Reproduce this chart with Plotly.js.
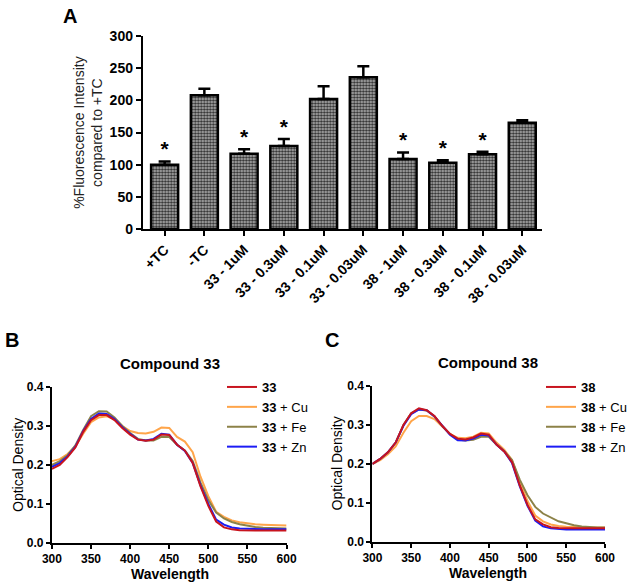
<!DOCTYPE html>
<html lang="en">
<head>
<meta charset="UTF-8">
<title>Fluorescence and optical density</title>
<script src="https://cdn.plot.ly/plotly-3.0.1.min.js"></script>
<style>
    html, body { margin: 0; padding: 0; background: #fff; }
    #chart { width: 632px; height: 586px; }
</style>
</head>
<body>
<div id="chart"></div>
<script>
    // Panel A: fluorescence relative to +TC
    const groups = ['+TC', '-TC', '33 - 1uM', '33 - 0.3uM', '33 - 0.1uM', '33 - 0.03uM',
                    '38 - 1uM', '38 - 0.3uM', '38 - 0.1uM', '38 - 0.03uM'];
    const fluor = [100, 208, 117, 129, 202, 236, 109, 103, 116, 165];
    const fluorErr = [5, 10, 7, 11, 20, 17, 10, 4, 4, 4];
    const signif = [true, false, true, true, false, false, true, true, true, false];

    // Panels B and C: absorbance spectra
    const wavelength = [300, 310, 320, 330, 340, 350, 360, 370, 380, 390, 400, 410, 420, 430, 440, 450,
                        460, 470, 480, 490, 500, 510, 520, 530, 540, 550, 560, 570, 580, 590, 600];

    const od33   = [0.190, 0.200, 0.220, 0.245, 0.285, 0.315, 0.328, 0.328, 0.315, 0.295, 0.278, 0.265, 0.262, 0.265, 0.278, 0.277,
                    0.252, 0.237, 0.205, 0.145, 0.095, 0.055, 0.040, 0.035, 0.033, 0.032, 0.032, 0.032, 0.032, 0.032, 0.032];
    const od33Cu = [0.210, 0.215, 0.228, 0.248, 0.280, 0.310, 0.322, 0.325, 0.318, 0.300, 0.287, 0.282, 0.281, 0.285, 0.296, 0.295,
                    0.272, 0.260, 0.233, 0.170, 0.120, 0.080, 0.067, 0.058, 0.053, 0.050, 0.048, 0.047, 0.046, 0.045, 0.045];
    const od33Fe = [0.200, 0.210, 0.225, 0.250, 0.290, 0.325, 0.338, 0.337, 0.322, 0.300, 0.282, 0.267, 0.263, 0.263, 0.272, 0.272,
                    0.252, 0.237, 0.210, 0.155, 0.110, 0.078, 0.063, 0.054, 0.048, 0.044, 0.041, 0.039, 0.038, 0.037, 0.037];
    const od33Zn = [0.195, 0.205, 0.222, 0.247, 0.287, 0.318, 0.332, 0.331, 0.318, 0.297, 0.280, 0.265, 0.263, 0.267, 0.280, 0.278,
                    0.252, 0.236, 0.205, 0.148, 0.100, 0.060, 0.047, 0.040, 0.037, 0.036, 0.036, 0.035, 0.035, 0.035, 0.035];

    const od38   = [0.200, 0.213, 0.230, 0.255, 0.300, 0.330, 0.343, 0.338, 0.323, 0.298, 0.277, 0.265, 0.263, 0.268, 0.278, 0.275,
                    0.250, 0.232, 0.205, 0.145, 0.095, 0.058, 0.045, 0.038, 0.036, 0.035, 0.035, 0.035, 0.035, 0.035, 0.035];
    const od38Cu = [0.200, 0.210, 0.225, 0.245, 0.280, 0.310, 0.323, 0.323, 0.315, 0.295, 0.277, 0.267, 0.266, 0.270, 0.280, 0.278,
                    0.255, 0.237, 0.210, 0.155, 0.105, 0.068, 0.053, 0.045, 0.041, 0.039, 0.038, 0.037, 0.037, 0.037, 0.037];
    const od38Fe = [0.200, 0.213, 0.230, 0.255, 0.300, 0.330, 0.340, 0.337, 0.322, 0.297, 0.277, 0.263, 0.260, 0.262, 0.270, 0.270,
                    0.250, 0.233, 0.210, 0.160, 0.120, 0.090, 0.073, 0.062, 0.053, 0.048, 0.043, 0.040, 0.038, 0.037, 0.037];
    const od38Zn = [0.200, 0.213, 0.230, 0.255, 0.298, 0.328, 0.340, 0.338, 0.322, 0.297, 0.275, 0.261, 0.260, 0.265, 0.275, 0.273,
                    0.250, 0.232, 0.203, 0.143, 0.093, 0.055, 0.040, 0.035, 0.033, 0.032, 0.032, 0.032, 0.032, 0.032, 0.032];

    const suffixes = ['', ' + Cu', ' + Fe', ' + Zn'];
    const colors = ['#c8141e', '#ffa54a', '#8c8248', '#1c1cf5'];

    const W = 632, H = 586;
    const px = x => x / W;
    const py = y => 1 - y / H;
    const FONT = 'Arial, "Liberation Sans", sans-serif';

    const traces = [];

    // bars with one sided error
    traces.push({
        type: 'bar', x: groups, y: fluor, xaxis: 'x', yaxis: 'y',
        width: 0.68, showlegend: false,
        marker: {
            color: '#8c8c8c',
            line: { color: '#000', width: 2.5 },
            pattern: { shape: '.', fgcolor: '#303030', bgcolor: '#b4b4b4', size: 3, solidity: 0.5 }
        },
        error_y: {
            type: 'data', symmetric: false, array: fluorErr,
            arrayminus: fluorErr.map(() => 0),
            color: '#000', thickness: 2.5, width: 6
        }
    });

    // asterisks for significance
    traces.push({
        type: 'scatter', mode: 'text', xaxis: 'x', yaxis: 'y', showlegend: false,
        x: groups, y: fluor.map((v, i) => v + fluorErr[i]),
        text: signif.map(s => s ? '<b>*</b>' : ''),
        textposition: 'top center',
        textfont: { family: FONT, size: 21, color: '#000' },
        cliponaxis: false
    });

    function addSpectra(compound, sets, xa, ya, legend) {
        // draw order: metal complexes first, parent compound on top
        [1, 2, 3, 0].forEach(i => {
            traces.push({
                type: 'scatter', mode: 'lines', x: wavelength, y: sets[i],
                xaxis: xa, yaxis: ya, legend: legend, legendrank: i + 1,
                name: '<b>' + compound + '</b>' + suffixes[i],
                line: { color: colors[i], width: 2 }
            });
        });
    }
    addSpectra('33', [od33, od33Cu, od33Fe, od33Zn], 'x2', 'y2', 'legend');
    addSpectra('38', [od38, od38Cu, od38Fe, od38Zn], 'x3', 'y3', 'legend2');

    const tickFont = { family: FONT, size: 12, color: '#000', weight: 'bold' };
    const bigTickFont = { family: FONT, size: 14, color: '#000', weight: 'bold' };
    const baseAxis = {
        showline: true, linecolor: '#000', linewidth: 2,
        ticks: 'outside', ticklen: 4, tickwidth: 2, tickcolor: '#000',
        showgrid: false, zeroline: false, tickfont: tickFont, automargin: false
    };

    const legendBase = {
        font: { family: FONT, size: 13, color: '#000' },
        bgcolor: 'rgba(0,0,0,0)', itemwidth: 30, tracegroupgap: 0,
        xanchor: 'left', yanchor: 'top', traceorder: 'normal'
    };

    function label(text, x, y, size, angle) {
        return { text: text, x: px(x), y: py(y), xref: 'paper', yref: 'paper', showarrow: false,
                 xanchor: 'center', yanchor: 'middle', textangle: angle || 0,
                 font: { family: FONT, size: size, color: '#000' } };
    }

    const layout = {
        width: W, height: H,
        margin: { l: 0, r: 0, t: 0, b: 0 },
        paper_bgcolor: '#fff', plot_bgcolor: '#fff',
        font: { family: FONT, color: '#000' },
        xaxis: Object.assign({}, baseAxis, {
            domain: [px(143), px(543)], anchor: 'y', tickfont: bigTickFont, ticklen: 5,
            type: 'category', range: [-0.55, 9.5], tickangle: -45
        }),
        yaxis: Object.assign({}, baseAxis, {
            domain: [py(229), py(36)], anchor: 'x', tickfont: bigTickFont, ticklen: 5,
            range: [0, 300], dtick: 50
        }),
        xaxis2: Object.assign({}, baseAxis, {
            domain: [px(52), px(287)], anchor: 'y2',
            range: [300, 600], dtick: 50
        }),
        yaxis2: Object.assign({}, baseAxis, {
            domain: [py(543), py(387)], anchor: 'x2',
            range: [0, 0.4], dtick: 0.1, tickformat: '.1f'
        }),
        xaxis3: Object.assign({}, baseAxis, {
            domain: [px(373), px(606)], anchor: 'y3',
            range: [300, 600], dtick: 50
        }),
        yaxis3: Object.assign({}, baseAxis, {
            domain: [py(542), py(386)], anchor: 'x3',
            range: [0, 0.4], dtick: 0.1, tickformat: '.1f'
        }),
        legend: Object.assign({}, legendBase, { x: px(222), y: py(372) }),
        legend2: Object.assign({}, legendBase, { x: px(542), y: py(372) }),
        annotations: [
            label('<b>A</b>', 70, 16, 20),
            label('<b>B</b>', 12, 340, 20),
            label('<b>C</b>', 333, 340, 20),
            label('<b>Compound 33</b>', 170, 363, 15),
            label('<b>Compound 38</b>', 489, 362, 15),
            Object.assign(label('%Fluorescence Intensity<br>compared to +TC', 88, 132, 14, -90),
                          { font: { family: FONT, size: 14, color: '#222' } }),
            label('Optical Density', 18, 465, 14, -90),
            label('Optical Density', 338, 463, 14, -90),
            label('<b>Wavelength</b>', 170, 574, 14),
            label('<b>Wavelength</b>', 489, 573, 14)
        ]
    };

    Plotly.newPlot('chart', traces, layout, { displayModeBar: false, staticPlot: true });
</script>
</body>
</html>
